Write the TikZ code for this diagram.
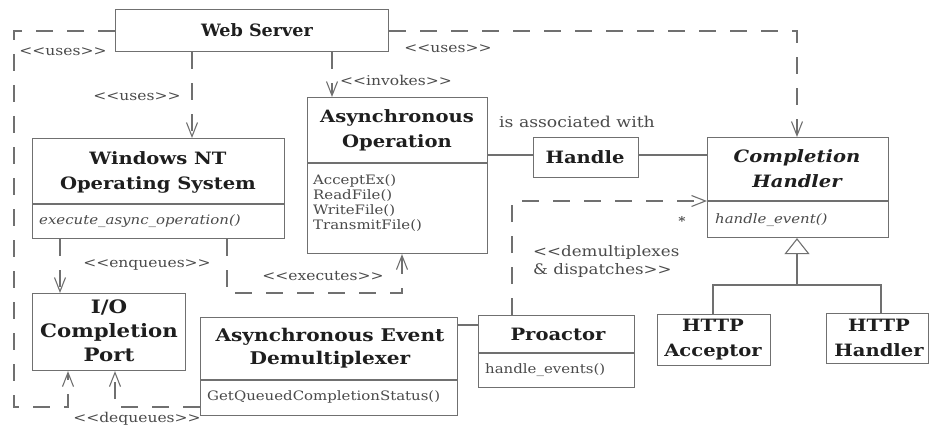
\documentclass[tikz,border=0pt]{standalone}
\usepackage{fontspec}
\usepackage{graphicx}
\setmainfont{DejaVu Serif}[FakeStretch=1.15]
\usetikzlibrary{arrows.meta}
\definecolor{ln}{HTML}{707070}
\definecolor{tx}{HTML}{1E1E1E}
\definecolor{lt}{HTML}{4A4A4A}
\newcommand\LL{<\kern0pt<}
\newcommand\GG{>\kern0pt>}
\tikzset{
  box/.style={draw=ln, line width=1.1pt, fill=white, inner sep=0pt, anchor=north west},
  ttl/.style={font=\fontsize{17}{25}\selectfont\bfseries, text=tx, align=center, inner sep=0pt},
  mth/.style={font=\fontsize{13}{15}\selectfont, text=lt, anchor=west, inner sep=0pt},
  lbl/.style={font=\fontsize{13.5}{18}\selectfont, text=lt, inner sep=0pt},
  dep/.style={draw=ln, line width=1.1pt, dash pattern=on 17pt off 14pt, -{Straight Barb[length=14pt,width=11pt]}},
  solidline/.style={draw=ln, line width=1.1pt},
  divider/.style={draw=ln, line width=1.1pt},
}
\begin{document}
\begin{tikzpicture}[x=1pt,y=-1pt]
\useasboundingbox (0,0) rectangle (930,428);

% ---------- class boxes ----------
\node[box, minimum width=273pt, minimum height=42pt] (ws) at (115,9) {};
\node[ttl] (wst) at (257,30) {\scalebox{0.9}[1]{Web Server}};

\node[box, minimum width=252pt, minimum height=100pt] (nt) at (32,138) {};
\node[ttl] (ntt) at (158,172) {Windows NT\\Operating System};
\draw[divider] (32,204) -- (284,204);
\node[mth, font=\fontsize{13}{15}\selectfont\itshape] (ntm) at (39,221) {execute\_async\_operation()};

\node[box, minimum width=180pt, minimum height=156pt] (ao) at (307,97) {};
\node[ttl] (aot) at (397,130) {Asynchronous\\Operation};
\draw[divider] (307,163) -- (487,163);
\node[mth] (aom1) at (313,181) {AcceptEx()};
\node[mth] (aom2) at (313,196) {ReadFile()};
\node[mth] (aom3) at (313,211) {WriteFile()};
\node[mth] (aom4) at (313,226) {TransmitFile()};

\node[box, minimum width=105pt, minimum height=40pt] (hd) at (533,137) {};
\node[ttl] (hdt) at (585,157) {Handle};

\node[box, minimum width=181pt, minimum height=100pt] (ch) at (707,137) {};
\node[ttl, font=\fontsize{17}{25}\selectfont\bfseries\itshape] (cht) at (797,169) {Completion\\Handler};
\draw[divider] (707,201) -- (888,201);
\node[mth, font=\fontsize{13}{15}\selectfont\itshape] (chm) at (715,220) {handle\_event()};

\node[box, minimum width=153pt, minimum height=77pt] (io) at (32,293) {};
\node[ttl, font=\fontsize{18.5}{24}\selectfont\bfseries] (iot) at (109,331) {I/O\\Completion\\Port};

\node[box, minimum width=257pt, minimum height=98pt] (dm) at (200,317) {};
\node[ttl, font=\fontsize{17.5}{23}\selectfont\bfseries] (dmt) at (330,348) {Asynchronous Event\\Demultiplexer};
\draw[divider] (200,380) -- (457,380);
\node[mth] (dmm) at (207,397) {GetQueuedCompletionStatus()};

\node[box, minimum width=156pt, minimum height=72pt] (pr) at (478,315) {};
\node[ttl] (prt) at (558,334) {Proactor};
\draw[divider] (478,353) -- (634,353);
\node[mth] (prm) at (485,370) {handle\_events()};

\node[box, minimum width=113pt, minimum height=51pt] (ac) at (657,314) {};
\node[ttl] (act) at (713,340) {HTTP\\Acceptor};

\node[box, minimum width=102pt, minimum height=50pt] (hh) at (826,313) {};
\node[ttl] (hht) at (879,338) {HTTP\\Handler};

% ---------- helper coordinates ----------
\coordinate (c1) at (14,31);
\coordinate (c2) at (14,407);
\coordinate (c3) at (68,407);
\coordinate (x68) at (68,0);
\coordinate (c4) at (115,407);
\coordinate (x115) at (115,0);
\coordinate (y407) at (0,407);
\coordinate (x192) at (192,0);
\coordinate (x332) at (332,0);
\coordinate (c5) at (797,31);
\coordinate (x797) at (797,0);
\coordinate (y155) at (0,155);
\coordinate (x512) at (512,0);
\coordinate (c6) at (512,201);
\coordinate (y201) at (0,201);
\coordinate (x60) at (60,0);
\coordinate (x227) at (227,0);
\coordinate (c7) at (227,293);
\coordinate (c8) at (402,293);
\coordinate (x402) at (402,0);
\coordinate (y325) at (0,325);
\coordinate (g1) at (797,285);
\coordinate (x713) at (713,0);
\coordinate (x881) at (881,0);

% ---------- dependencies ----------
\draw[dep] (ws.west |- c1) -- (c1) -- (c2) -- (c3) -- (x68 |- io.south);
\draw[dep] (dm.west |- y407) -- (c4) -- (x115 |- io.south);
\draw[dep] (x192 |- ws.south) -- (x192 |- nt.north);
\draw[dep] (x332 |- ws.south) -- (x332 |- ao.north);
\draw[dep] (ws.east |- c5) -- (c5) -- (x797 |- ch.north);
\draw[dep] (x512 |- pr.north) -- (c6) -- (ch.west |- y201);
\draw[dep] (x60 |- nt.south) -- (x60 |- io.north);
\draw[dep] (x227 |- nt.south) -- (c7) -- (c8) -- (x402 |- ao.south);

% ---------- associations ----------
\draw[solidline] (ao.east |- y155) -- (hd.west |- y155);
\draw[solidline] (hd.east |- y155) -- (ch.west |- y155);
\draw[solidline] (dm.east |- y325) -- (pr.west |- y325);

% ---------- generalization ----------
\draw[solidline] (x713 |- ac.north) -- (713,285) -- (881,285) -- (x881 |- hh.north);
\draw[solidline, -{Triangle[open, length=16pt, width=25pt, fill=white]}] (g1) -- (x797 |- ch.south);

% ---------- labels ----------
\node[lbl] (l1) at (63,52) {\LL uses\GG};
\node[lbl] (l2) at (137,97) {\LL uses\GG};
\node[lbl, anchor=west] (l3) at (340,80) {\LL invokes\GG};
\node[lbl] (l4) at (448,49) {\LL uses\GG};
\node[lbl, font=\fontsize{15}{18}\selectfont] (l5) at (577,122) {is associated with};
\node[lbl] (l6) at (147,265) {\LL enqueues\GG};
\node[lbl] (l7) at (323,276) {\LL executes\GG};
\node[lbl] (l8) at (137,419) {\LL dequeues\GG};
\node[lbl, font=\fontsize{14.5}{18}\selectfont, align=left, anchor=west] (l9) at (533,261) {\LL demultiplexes\\\& dispatches\GG};
\node[lbl, font=\fontsize{12}{14}\selectfont\bfseries] (l10) at (682,221) {*};
\end{tikzpicture}
\end{document}
